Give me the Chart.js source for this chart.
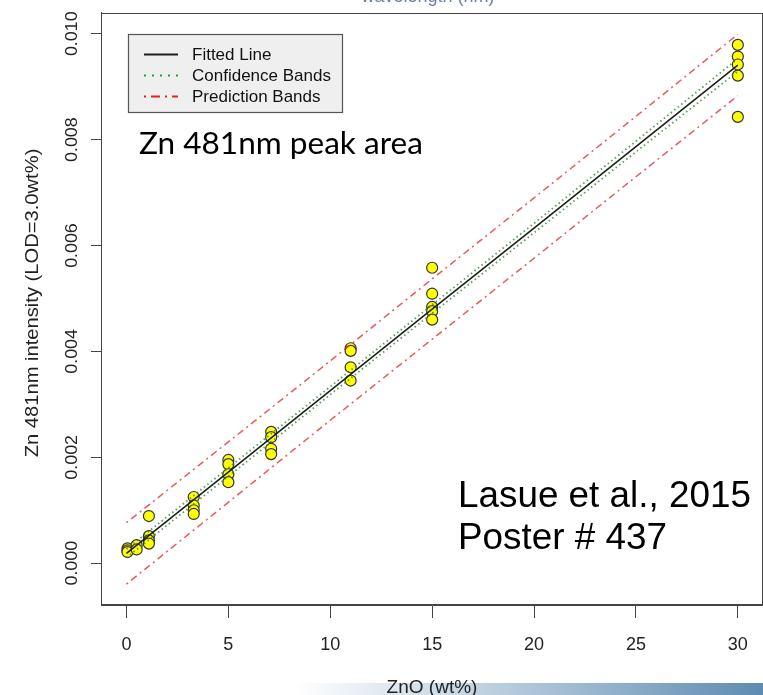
<!DOCTYPE html>
<html><head><meta charset="utf-8">
<script src="https://cdn.jsdelivr.net/npm/chart.js@4"></script>
<style>html,body{margin:0;padding:0;overflow:hidden;background:#fff}canvas{display:block}</style>
</head><body>
<canvas id="c" width="770" height="695"></canvas>
<script>
// ---- data ----
const xTicks = [0, 5, 10, 15, 20, 25, 30];
const yTicks = [0, 0.002, 0.004, 0.006, 0.008, 0.010];
const yTickLabels = ['0.000', '0.002', '0.004', '0.006', '0.008', '0.010'];

const znoWt = [0.05, 0.05, 0.05, 0.5, 0.5, 1.1, 1.1, 1.1, 1.1,
  3.3, 3.3, 3.3, 3.3, 5, 5, 5, 5, 7.1, 7.1, 7.1, 7.1,
  11, 11, 11, 11, 15, 15, 15, 15, 15, 30, 30, 30, 30, 30];
const intensity = [0.00028, 0.00024, 0.00021, 0.00034, 0.00026, 0.00089, 0.00051, 0.00043, 0.00037,
  0.00125, 0.00109, 0.00100, 0.00093, 0.00195, 0.00187, 0.00168, 0.00153, 0.00248, 0.00238, 0.00216, 0.00206,
  0.00406, 0.00401, 0.00370, 0.00345, 0.00558, 0.00509, 0.00484, 0.00476, 0.00460,
  0.00979, 0.00957, 0.00942, 0.00921, 0.00843];

const bandX = [0, 5, 10, 15, 20, 25, 30];
const fitted = [0.000185, 0.00172, 0.00326, 0.00480, 0.00633, 0.00787, 0.00941];
const confUpper = [0.000265, 0.00180, 0.003335, 0.00488, 0.00642, 0.00797, 0.00953];
const confLower = [0.000105, 0.00164, 0.003185, 0.00472, 0.00624, 0.00777, 0.00929];
const predUpper = [0.000765, 0.00229, 0.00382, 0.00537, 0.00690, 0.00844, 0.00999];
const predLower = [-0.000395, 0.00115, 0.00270, 0.00423, 0.00576, 0.00730, 0.00883];

const legendLabels = ['Fitted Line', 'Confidence Bands', 'Prediction Bands'];
const xTitle = 'ZnO (wt%)';
const yTitle = 'Zn 481nm intensity (LOD=3.0wt%)';
const topTitle = 'wavelength (nm)';
const note1 = 'Zn 481nm peak area';
const note2 = ['Lasue et al., 2015', 'Poster # 437'];

// ---- styles ----
const FONT = '"Liberation Sans", Arial, sans-serif';
const C_FIT = '#1e1e1e';
const C_CONF = 'rgba(50,145,50,0.85)';
const C_PRED = 'rgba(225,50,50,0.8)';
const DASH_CONF = [1.5, 3];
const DASH_PRED = [2, 4, 7, 4];

const pts = (xs, ys) => xs.map((x, i) => ({x: x, y: ys[i]}));
const lineDs = (d, color, dash, w) => ({
  data: pts(bandX, d), showLine: true, pointRadius: 0, borderColor: color,
  borderWidth: w, borderDash: dash, fill: false, order: 0
});

const decor = {
  id: 'decor',
  beforeDraw(chart) {
    const ctx = chart.ctx;
    ctx.save();
    const g = ctx.createLinearGradient(295, 0, 763, 0);
    g.addColorStop(0, 'rgba(255,255,255,1)');
    g.addColorStop(0.3, '#cfdde8');
    g.addColorStop(1, '#5e8bb2');
    ctx.fillStyle = g;
    ctx.fillRect(295, 683, 475, 12);
    // partially visible title at top (cut by the page edge)
    ctx.fillStyle = '#6f7fa0';
    ctx.font = '18px ' + FONT;
    ctx.textAlign = 'center';
    ctx.textBaseline = 'alphabetic';
    ctx.fillText(topTitle, 428, 2);
    ctx.restore();
  },
  afterDraw(chart) {
    const ctx = chart.ctx, a = chart.chartArea;
    const ys = chart.scales.y;
    ctx.save();
    // box
    ctx.strokeStyle = '#444';
    ctx.lineWidth = 1;
    ctx.strokeRect(Math.round(a.left) + 0.5, Math.round(a.top) + 0.5,
      Math.round(a.right - a.left) - 1, Math.round(a.bottom - a.top) - 1);
    // y tick labels (rotated)
    ctx.fillStyle = '#222';
    ctx.font = '17px ' + FONT;
    ctx.textAlign = 'center';
    ctx.textBaseline = 'middle';
    yTicks.forEach((v, i) => {
      const py = ys.getPixelForValue(v);
      ctx.save();
      ctx.translate(72, py);
      ctx.rotate(-Math.PI / 2);
      ctx.scale(1.05, 1);
      ctx.fillText(yTickLabels[i], 0, 0);
      ctx.restore();
    });
    // y title
    ctx.save();
    ctx.translate(33, 303);
    ctx.rotate(-Math.PI / 2);
    ctx.scale(1.12, 1);
    ctx.font = '18px ' + FONT;
    ctx.fillText(yTitle, 0, 0);
    ctx.restore();
    // x title
    ctx.font = '19px ' + FONT;
    ctx.textBaseline = 'alphabetic';
    ctx.fillStyle = '#222';
    ctx.fillText(xTitle, 432, 693);
    // legend
    const L = {x: 128, y: 34, w: 214, h: 78};
    ctx.fillStyle = '#efefef';
    ctx.fillRect(L.x, L.y, L.w, L.h);
    ctx.strokeStyle = '#555';
    ctx.lineWidth = 1.2;
    ctx.strokeRect(L.x + 0.5, L.y + 0.5, L.w, L.h);
    const rows = [54.5, 75.5, 96.5];
    const styles = [[C_FIT, [], 2], ['rgba(40,160,40,1)', [2, 6], 2.2], ['rgba(235,30,30,1)', [2, 5, 9, 5], 2]];
    rows.forEach((ry, i) => {
      ctx.beginPath();
      ctx.strokeStyle = styles[i][0];
      ctx.setLineDash(styles[i][1]);
      ctx.lineWidth = styles[i][2];
      ctx.moveTo(144, ry); ctx.lineTo(178, ry);
      ctx.stroke();
      ctx.setLineDash([]);
      ctx.fillStyle = '#111';
      ctx.font = '17px ' + FONT;
      ctx.textAlign = 'left';
      ctx.textBaseline = 'middle';
      ctx.fillText(legendLabels[i], 192, ry + 1);
    });
    // annotations
    ctx.fillStyle = '#000';
    ctx.textAlign = 'left';
    ctx.textBaseline = 'alphabetic';
    const fit = (txt, fam, target, base) => {
      ctx.font = base + 'px ' + fam;
      const w = ctx.measureText(txt).width;
      return base * target / w;
    };
    const s1 = fit(note1, 'Lato, "Open Sans", sans-serif', 284, 24);
    ctx.font = s1 + 'px Lato, "Open Sans", sans-serif';
    ctx.fillText(note1, 139, 154);
    const s2 = fit(note2[0], FONT, 293, 36);
    ctx.font = s2 + 'px ' + FONT;
    ctx.fillText(note2[0], 458, 507);
    ctx.fillText(note2[1], 458, 549);
    ctx.restore();
  }
};

new Chart(document.getElementById('c'), {
  type: 'scatter',
  data: {
    datasets: [
      {data: pts(znoWt, intensity), pointRadius: 5.5, pointBackgroundColor: '#ffff00',
       pointBorderColor: '#333', pointBorderWidth: 1.2, showLine: false, order: 5},
      lineDs(fitted, C_FIT, [], 1.6),
      lineDs(confUpper, C_CONF, DASH_CONF, 1.8),
      lineDs(confLower, C_CONF, DASH_CONF, 1.8),
      lineDs(predUpper, C_PRED, DASH_PRED, 1.5),
      lineDs(predLower, C_PRED, DASH_PRED, 1.5)
    ]
  },
  options: {
    responsive: false, animation: false, events: [],
    layout: {padding: {top: 12, right: 4, left: 0, bottom: 0}},
    plugins: {legend: {display: false}, tooltip: {enabled: false}},
    scales: {
      x: {
        type: 'linear', min: -1.25, max: 31.25,
        afterBuildTicks: s => { s.ticks = xTicks.map(v => ({value: v})); },
        afterFit: s => { s.height = 90; },
        grid: {drawOnChartArea: false, drawTicks: true, tickLength: 13, tickColor: '#444', tickWidth: 1},
        border: {display: true, color: '#444'},
        ticks: {color: '#222', font: {family: FONT, size: 18}, padding: 16, maxRotation: 0}
      },
      y: {
        type: 'linear', min: -0.00079, max: 0.0104,
        afterBuildTicks: s => { s.ticks = yTicks.map(v => ({value: v})); },
        afterFit: s => { s.width = 101; },
        grid: {drawOnChartArea: false, drawTicks: true, tickLength: 10, tickColor: '#444', tickWidth: 1},
        border: {display: true, color: '#444'},
        ticks: {color: 'rgba(0,0,0,0)', font: {family: FONT, size: 16}}
      }
    }
  },
  plugins: [decor]
});
</script>
</body></html>
